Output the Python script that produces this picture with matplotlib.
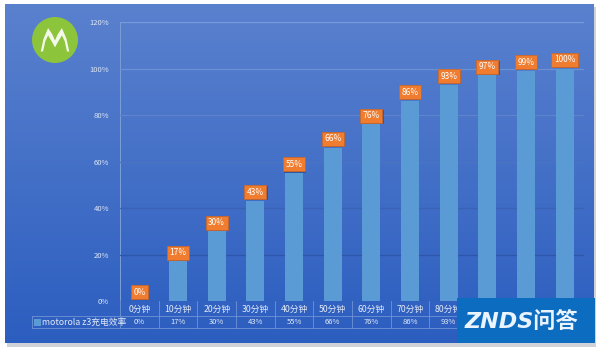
import numpy as np
import matplotlib.pyplot as plt
from matplotlib.patches import Rectangle, Circle, Polygon
from matplotlib.transforms import blended_transform_factory
import matplotlib.patheffects as pe

plt.rcParams['font.family'] = ['Noto Sans CJK SC', 'DejaVu Sans']

categories = ['0分钟', '10分钟', '20分钟', '30分钟', '40分钟', '50分钟',
              '60分钟', '70分钟', '80分钟', '90分钟', '100分钟', '110分钟']
values = [0, 17, 30, 43, 55, 66, 76, 86, 93, 97, 99, 100]
yticks = [0, 20, 40, 60, 80, 100, 120]
series_name = 'motorola z3充电效率'

W, H = 600, 349
fig = plt.figure(figsize=(W / 100, H / 100), dpi=100)
fig.patch.set_facecolor('white')

# drop shadow + blue gradient panel
fig.patches.append(Rectangle((7 / W, 1 - 347 / H), 589 / W, 340 / H, transform=fig.transFigure,
                             fc='#cfd3d8', ec='none', zorder=0))
bg = fig.add_axes([5 / W, 1 - 343 / H, 589 / W, 339 / H], zorder=1)
grad = np.linspace(0, 1, 256)[:, None]
top = np.array([90, 129, 206]) / 255
bot = np.array([44, 94, 192]) / 255
img = top[None, None, :] * (1 - grad[:, :, None]) + bot[None, None, :] * grad[:, :, None]
bg.imshow(img, aspect='auto', extent=[0, 1, 0, 1])
bg.set_xlim(0, 1)
bg.set_ylim(0, 1)
bg.axis('off')

# motorola logo
logo = fig.add_axes([32 / W, 1 - 63 / H, 46 / W, 46 / H], zorder=2)
logo.set_xlim(-1, 1)
logo.set_ylim(-1, 1)
logo.set_aspect('equal')
logo.axis('off')
logo.add_patch(Circle((0, 0), 1, fc='#8cc43c', ec='none'))
m_pts = [(-0.62, -0.5), (-0.5, 0.05), (-0.3, 0.52), (-0.12, 0.25), (0, -0.02),
         (0.12, 0.25), (0.3, 0.52), (0.5, 0.05), (0.62, -0.5),
         (0.52, -0.5), (0.42, -0.05), (0.3, 0.2), (0.12, -0.1), (0, -0.32),
         (-0.12, -0.1), (-0.3, 0.2), (-0.42, -0.05), (-0.52, -0.5)]
logo.add_patch(Polygon(m_pts, closed=True, fc='#f4f8ea', ec='none'))

# main chart
ax = fig.add_axes([120 / W, 1 - 301 / H, 464 / W, 279 / H], zorder=3)
ax.patch.set_alpha(0)
x = np.arange(len(categories))
ax.bar(x, values, width=0.47, color='#5b9bd5', zorder=2)
ax.set_xlim(-0.5, len(categories) - 0.5)
ax.set_ylim(0, 120)
ax.set_yticks(yticks)
ax.set_yticklabels([f'{t}%' for t in yticks], fontsize=5.5, color='#dfe7f5')
ax.tick_params(axis='y', length=0, pad=8)
ax.set_xticks([])
for s in ax.spines.values():
    s.set_visible(False)
ax.axvline(-0.5, color='#7d9fd8', lw=0.7, zorder=1)
grid_colors = ['#2f56aa', '#2f56aa', '#3a63b6', '#4a73c2', '#5e84cc', '#6d90d3', '#789ad8']
for t, gc in zip(yticks, grid_colors):
    ax.axhline(t, color=gc, lw=0.9, zorder=1)

for xi, v in zip(x, values):
    txt = ax.text(xi, v + 1.8, f'{v}%', ha='center', va='bottom', fontsize=6,
                  color='white', zorder=4,
                  bbox=dict(boxstyle='square,pad=0.3', fc='#ef7c2f', ec='#d2651e', lw=0.5))
    txt.get_bbox_patch().set_path_effects([pe.withSimplePatchShadow(offset=(0.8, -0.8),
                                                                    shadow_rgbFace='#1f3f80', alpha=0.5)])

# watermark box (covers the right end of the data table)
wm_left = 457
wm = fig.add_axes([wm_left / W, 1 - 343 / H, 138 / W, 45 / H], zorder=5)
wm.set_facecolor('#0c6cc0')
wm.set_xticks([])
wm.set_yticks([])
for s in wm.spines.values():
    s.set_visible(False)
wm.text(0.47, 0.48, 'ZNDS问答', ha='center', va='center', fontsize=16, color='#eaf4ff',
        fontweight='bold', style='italic', family=['DejaVu Sans', 'Noto Sans CJK SC'],
        transform=wm.transAxes)

# data table under the axis
tr = blended_transform_factory(ax.transData, ax.transAxes)
line_c = '#6f93d6'
r1, r2 = -15 / 279, -27 / 279
col_px = 464 / len(categories)
for xi, cat, v in zip(x, categories, values):
    if 120 + col_px * xi + col_px * 0.2 > wm_left:
        continue  # hidden by the watermark in the reference
    ax.text(xi, -8 / 279, cat, transform=tr, ha='center', va='center', fontsize=6.3,
            color='#e3eaf7', clip_on=False)
    ax.text(xi, -21 / 279, f'{v}%', transform=tr, ha='center', va='center', fontsize=5.5,
            color='#e3eaf7', clip_on=False)
for b in np.arange(len(categories) + 1) - 0.5:
    ax.plot([b, b], [0, r2], transform=tr, color=line_c, lw=0.6, clip_on=False)
left_x = -0.5 - 88 / col_px
ax.plot([left_x, len(categories) - 0.5], [r1, r1], transform=tr, color=line_c, lw=0.6, clip_on=False)
ax.plot([left_x, len(categories) - 0.5], [r2, r2], transform=tr, color=line_c, lw=0.6, clip_on=False)
ax.plot([left_x, left_x], [r1, r2], transform=tr, color=line_c, lw=0.6, clip_on=False)
ax.add_patch(Rectangle((left_x + 0.06, -24.5 / 279), 0.16, 7 / 279, transform=tr,
                       fc='#5b9bd5', ec='none', clip_on=False))
ax.text(left_x + 0.25, -21 / 279, series_name, transform=tr, ha='left', va='center',
        fontsize=6.3, color='#e3eaf7', clip_on=False)

fig.savefig('out.png', dpi=100)
